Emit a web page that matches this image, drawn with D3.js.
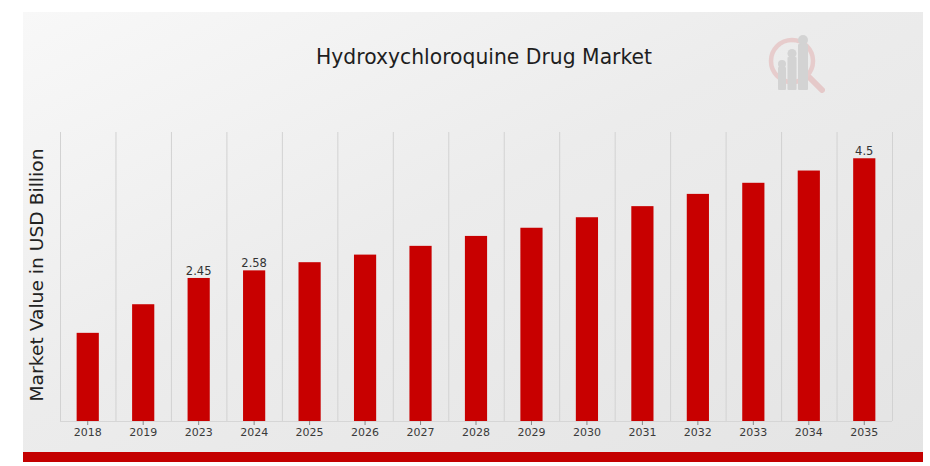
<!DOCTYPE html>
<html>
<head>
<meta charset="utf-8">
<script src="https://cdn.jsdelivr.net/npm/d3@7/dist/d3.min.js"></script>
<style>
  html, body { margin: 0; padding: 0; background: #ffffff; }
  svg { display: block; }
</style>
</head>
<body>
<script>
const categories = ["2018","2019","2023","2024","2025","2026","2027","2028","2029","2030","2031","2032","2033","2034","2035"];
const values = [1.51, 2.0, 2.45, 2.58, 2.72, 2.85, 3.0, 3.17, 3.31, 3.49, 3.68, 3.89, 4.08, 4.29, 4.5];
const labelled = ["2023", "2024", "2035"];
const labelText = {"2023": "2.45", "2024": "2.58", "2035": "4.5"};
const title = "Hydroxychloroquine Drug Market";
const yTitle = "Market Value in USD Billion";

const W = 930, H = 466;
const svg = d3.select("body").append("svg").attr("width", W).attr("height", H);
const defs = svg.append("defs");
const grad = defs.append("linearGradient").attr("id", "bg")
  .attr("x1", "0%").attr("y1", "0%").attr("x2", "100%").attr("y2", "100%");
grad.append("stop").attr("offset", "0%").attr("stop-color", "#f8f8f8");
grad.append("stop").attr("offset", "45%").attr("stop-color", "#ececec");
grad.append("stop").attr("offset", "100%").attr("stop-color", "#e4e4e4");

// panel
svg.append("rect").attr("x", 23).attr("y", 12).attr("width", 900).attr("height", 450).attr("fill", "url(#bg)");
svg.append("rect").attr("x", 23).attr("y", 452).attr("width", 900).attr("height", 10).attr("fill", "#c40000");

const plot = {left: 60, right: 892, top: 132, bottom: 421};
const x = d3.scaleBand().domain(categories).range([plot.left, plot.right]).paddingInner(0.6).paddingOuter(0.3);
const xb = d3.scaleBand().domain(categories).range([plot.left, plot.right]);
const y = d3.scaleLinear().domain([0, 4.95]).range([plot.bottom, plot.top]);

// vertical gridlines at band boundaries
const bounds = categories.map(c => xb(c)).concat([plot.right]);
svg.append("g").selectAll("line").data(bounds).join("line")
  .attr("x1", d => d + 0.5).attr("x2", d => d + 0.5)
  .attr("y1", plot.top).attr("y2", plot.bottom)
  .attr("stroke", "#d2d2d2").attr("stroke-width", 1);

// baseline
svg.append("line").attr("x1", plot.left).attr("x2", plot.right)
  .attr("y1", plot.bottom + 0.5).attr("y2", plot.bottom + 0.5)
  .attr("stroke", "#d6d6d6");

// bars
svg.append("g").selectAll("rect").data(categories).join("rect")
  .attr("x", c => x(c)).attr("width", x.bandwidth())
  .attr("y", (c, i) => y(values[i])).attr("height", (c, i) => y(0) - y(values[i]))
  .attr("fill", "#c80000");

// x axis
const xAxis = d3.axisBottom(xb).tickSize(4).tickPadding(3);
const gx = svg.append("g").attr("transform", `translate(0,${plot.bottom})`).call(xAxis);
gx.select(".domain").remove();
gx.selectAll(".tick line").attr("stroke", "#888");
gx.selectAll(".tick text").attr("fill", "#3a3a3a").attr("font-family", "DejaVu Sans").attr("font-size", 11);

// data labels
svg.append("g").selectAll("text").data(labelled).join("text")
  .attr("x", c => xb(c) + xb.bandwidth() / 2)
  .attr("y", c => y(values[categories.indexOf(c)]) - 3)
  .attr("text-anchor", "middle")
  .attr("font-family", "DejaVu Sans").attr("font-size", 11.5).attr("fill", "#333")
  .text(c => labelText[c]);

// title
svg.append("text").attr("x", 484).attr("y", 64).attr("text-anchor", "middle")
  .attr("font-family", "DejaVu Sans").attr("font-size", 21).attr("fill", "#1e1e1e")
  .attr("textLength", 336).attr("lengthAdjust", "spacingAndGlyphs")
  .text(title);

// y title
svg.append("text").attr("transform", "translate(43,275) rotate(-90)")
  .attr("text-anchor", "middle")
  .attr("font-family", "DejaVu Sans").attr("font-size", 17.5).attr("fill", "#222")
  .attr("textLength", 253).attr("lengthAdjust", "spacingAndGlyphs")
  .text(yTitle);

// logo (faint)
const logo = svg.append("g").attr("opacity", 0.6);
logo.append("line").attr("x1", 810).attr("y1", 78).attr("x2", 822).attr("y2", 90)
  .attr("stroke", "#e2b4b4").attr("stroke-width", 6).attr("stroke-linecap", "round");
logo.append("circle").attr("cx", 792).attr("cy", 61).attr("r", 21)
  .attr("fill", "none").attr("stroke", "#e4b8b8").attr("stroke-width", 4.5);
const barsL = [{cx: 782, top: 67, r: 4}, {cx: 792, top: 57, r: 4.5}, {cx: 803, top: 44, r: 5}];
barsL.forEach(b => {
  logo.append("rect").attr("x", b.cx - b.r).attr("y", b.top).attr("width", b.r * 2).attr("height", 90 - b.top)
    .attr("fill", "#c4c4c4").attr("rx", 1);
  logo.append("circle").attr("cx", b.cx).attr("cy", b.top - b.r + 1).attr("r", b.r).attr("fill", "#c4c4c4");
});
</script>
</body>
</html>
